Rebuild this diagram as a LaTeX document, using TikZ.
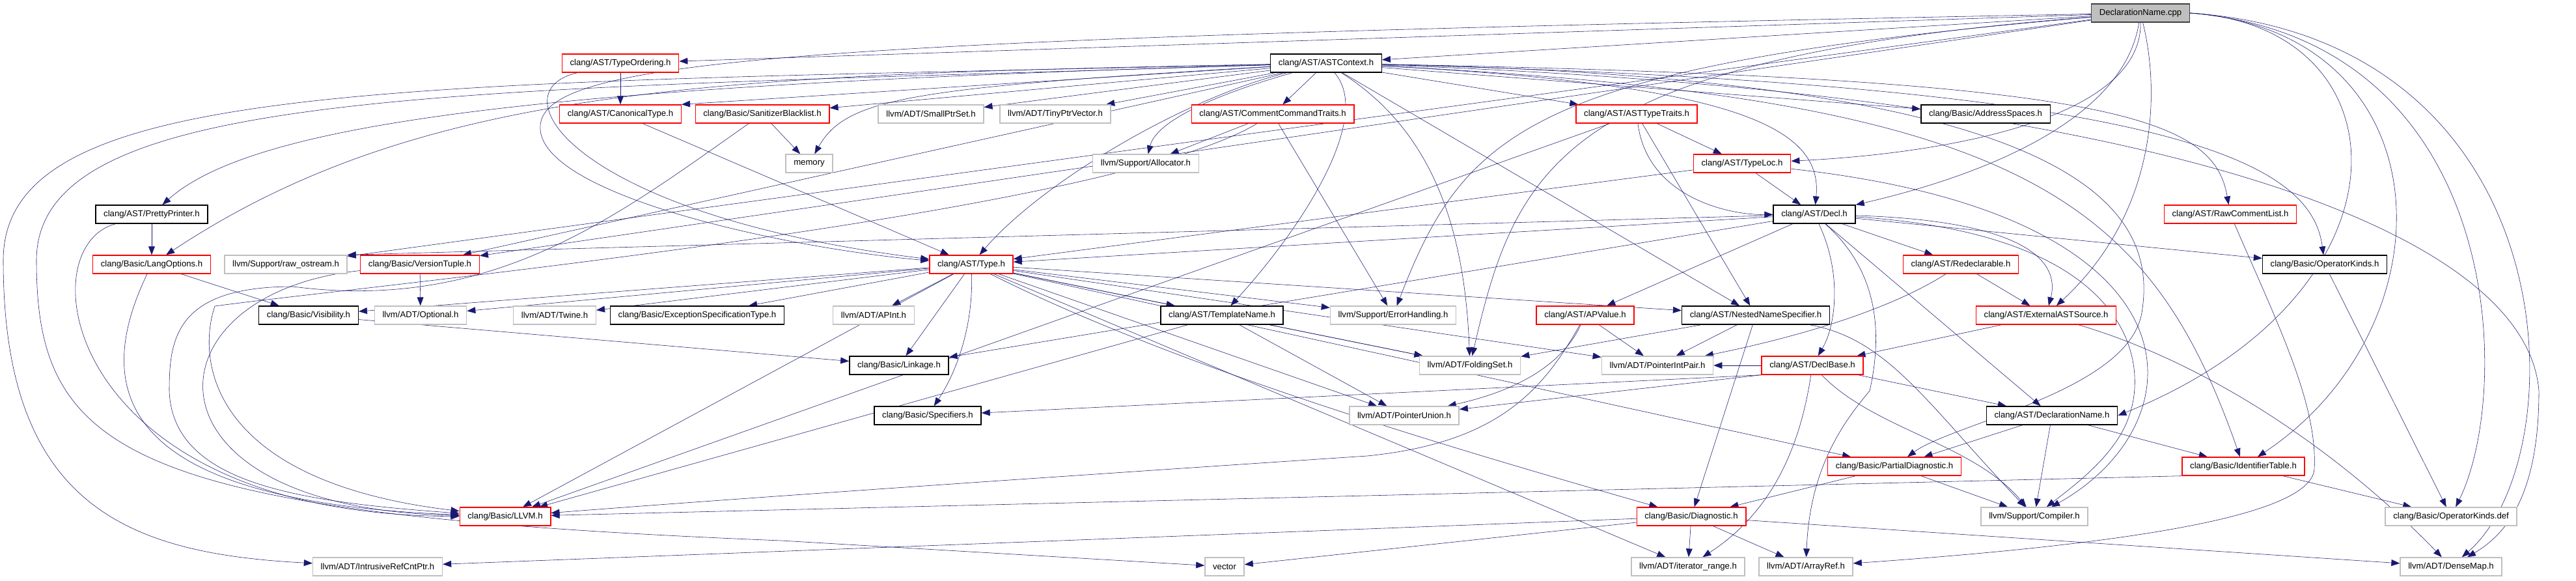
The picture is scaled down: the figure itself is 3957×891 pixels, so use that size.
\documentclass[tikz,border=0pt]{standalone}
\usepackage{fontspec}
\setmainfont{Liberation Sans}
\usepackage{tikz}
\usetikzlibrary{arrows.meta}
\usetikzlibrary{backgrounds}

\definecolor{edgeblue}{HTML}{191970}
\definecolor{cutred}{HTML}{FF0000}
\definecolor{sysgray}{HTML}{BFBFBF}
\definecolor{rootgray}{HTML}{BFBFBF}
\definecolor{fullgray}{HTML}{404040}

\begin{document}
\begin{tikzpicture}[->,>={Triangle[length=3.3mm,width=2.5mm]},line width=1.2pt,x=0.254mm,y=-0.254mm,
                    file node/.style={rectangle,draw,fill=white,text=black,line width=1pt,
                      minimum height=7.1mm,inner xsep=3.1mm,inner ysep=0pt,
                      font=\fontsize{9.5}{11}\selectfont},
                    root node/.style={file node,draw=fullgray,fill=rootgray},
                    full node/.style={file node,draw=black},
                    cut node/.style={file node,draw=cutred},
                    sys node/.style={file node,draw=sysgray}]

  \useasboundingbox (0,0) rectangle (3957,891);

  \node[root node] (cpp) at (3288,20) {DeclarationName.cpp};

  \node[cut node] (tord) at (953,97) {clang/AST/TypeOrdering.h};
  \node[full node] (astctx) at (2037,97) {clang/AST/ASTContext.h};

  \node[cut node] (canon) at (953,175) {clang/AST/CanonicalType.h};
  \node[cut node] (sanit) at (1171,175) {clang/Basic/SanitizerBlacklist.h};
  \node[sys node] (smallptr) at (1430,175) {llvm/ADT/SmallPtrSet.h};
  \node[sys node] (tinyptr) at (1621,175) {llvm/ADT/TinyPtrVector.h};
  \node[cut node] (cmdtraits) at (1955,175) {clang/AST/CommentCommandTraits.h};
  \node[cut node] (asttraits) at (2514,175) {clang/AST/ASTTypeTraits.h};
  \node[full node] (addrsp) at (3050,175) {clang/Basic/AddressSpaces.h};

  \node[sys node] (memory) at (1243,251) {memory};
  \node[sys node] (alloc) at (1760,251) {llvm/Support/Allocator.h};
  \node[cut node] (typeloc) at (2676,251) {clang/AST/TypeLoc.h};

  \node[full node] (pprint) at (233,329) {clang/AST/PrettyPrinter.h};
  \node[full node] (decl) at (2787,329) {clang/AST/Decl.h};
  \node[cut node] (rawcmt) at (3426,329) {clang/AST/RawCommentList.h};

  \node[cut node] (langopt) at (233,406) {clang/Basic/LangOptions.h};
  \node[sys node] (rawos) at (439,406) {llvm/Support/raw\_ostream.h};
  \node[cut node] (vtuple) at (645,406) {clang/Basic/VersionTuple.h};
  \node[cut node] (type) at (1492,406) {clang/AST/Type.h};
  \node[cut node] (redecl) at (3012,406) {clang/AST/Redeclarable.h};
  \node[full node] (opkinds) at (3571,406) {clang/Basic/OperatorKinds.h};

  \node[full node] (visib) at (474,484) {clang/Basic/Visibility.h};
  \node[sys node] (optional) at (646,484) {llvm/ADT/Optional.h};
  \node[sys node] (twine) at (852,484) {llvm/ADT/Twine.h};
  \node[full node] (excspec) at (1071,484) {clang/Basic/ExceptionSpecificationType.h};
  \node[sys node] (apint) at (1342,484) {llvm/ADT/APInt.h};
  \node[full node] (tname) at (1877,484) {clang/AST/TemplateName.h};
  \node[sys node] (errh) at (2140,484) {llvm/Support/ErrorHandling.h};
  \node[cut node] (apvalue) at (2435,484) {clang/AST/APValue.h};
  \node[full node] (nns) at (2697,484) {clang/AST/NestedNameSpecifier.h};
  \node[cut node] (extsrc) at (3143,484) {clang/AST/ExternalASTSource.h};

  \node[full node] (linkage) at (1381,561) {clang/Basic/Linkage.h};
  \node[sys node] (foldset) at (2258,561) {llvm/ADT/FoldingSet.h};
  \node[sys node] (ptrint) at (2546,561) {llvm/ADT/PointerIntPair.h};
  \node[cut node] (declbase) at (2784,561) {clang/AST/DeclBase.h};

  \node[full node] (specif) at (1425,638) {clang/Basic/Specifiers.h};
  \node[sys node] (ptrunion) at (2157,638) {llvm/ADT/PointerUnion.h};
  \node[full node] (dname) at (3152,638) {clang/AST/DeclarationName.h};

  \node[cut node] (pdiag) at (2910,716) {clang/Basic/PartialDiagnostic.h};
  \node[cut node] (idtable) at (3446,716) {clang/Basic/IdentifierTable.h};

  \node[cut node] (llvm) at (776,793) {clang/Basic/LLVM.h};
  \node[cut node] (diag) at (2598,793) {clang/Basic/Diagnostic.h};
  \node[sys node] (compiler) at (3125,793) {llvm/Support/Compiler.h};
  \node[sys node] (opdef) at (3765,793) {clang/Basic/OperatorKinds.def};

  \node[sys node] (irc) at (580,870) {llvm/ADT/IntrusiveRefCntPtr.h};
  \node[sys node] (vector) at (1881,870) {vector};
  \node[sys node] (itrange) at (2593,870) {llvm/ADT/iterator\_range.h};
  \node[sys node] (arrayref) at (2774,870) {llvm/ADT/ArrayRef.h};
  \node[sys node] (densemap) at (3765,870) {llvm/ADT/DenseMap.h};

  \begin{pgfonlayer}{background}
  \begin{scope}[color=edgeblue]
  \path
    (cpp) edge (tord)
          edge (astctx)
          edge (rawos)
          edge (vtuple)
    (tord) edge (canon)
    (astctx) edge (canon.north east)
             edge (sanit)
             edge (smallptr)
             edge (tinyptr)
             edge (cmdtraits)
             edge (asttraits)
             edge (addrsp)
             edge (vtuple)
             edge (nns)
    (canon) edge (type)
    (sanit) edge (memory)
    (cmdtraits) edge (alloc)
                edge (errh)
    (asttraits) edge (typeloc)
                edge (nns)
                edge (llvm)
    (typeloc) edge (type)
              edge (decl)
    (pprint) edge (langopt)
    (langopt) edge (visib)
    (vtuple) edge (optional)
    (visib) edge (linkage)
    (decl) edge (type)
           edge (rawos.north east)
           edge (linkage)
           edge (apvalue)
           edge (redecl)
           edge (dname)
           edge (opkinds)
    (type) edge (visib) edge (optional) edge (twine) edge (excspec) edge (apint)
           edge (linkage) edge (tname) edge (errh) edge (foldset) edge (ptrint)
           edge (ptrunion) edge (nns) edge (pdiag) edge (itrange) edge (llvm)
    (redecl) edge (extsrc)
    (opkinds) edge (opdef)
    (tname) edge (foldset) edge (ptrunion) edge (llvm)
    (apvalue) edge (ptrint)
    (nns) edge (foldset) edge (ptrint) edge (diag)
    (extsrc) edge (declbase)
    (declbase) edge (ptrint)
               edge (dname)
    (declbase.south west) edge (ptrunion) edge (specif)
    (dname) edge (pdiag) edge (compiler) edge (idtable)
    (pdiag) edge (diag) edge (compiler)
    (idtable) edge (opdef)
    (idtable.south west) edge (llvm)
    (diag) edge (vector) edge (itrange) edge (arrayref) edge (densemap) edge (irc);

  % long splines
  \draw (cpp) .. controls (1200,60) and (820,90) .. (830,200) .. controls (840,300) and (1200,380) .. (type);
  \draw (cpp) .. controls (3290,180) and (3000,235) .. (typeloc);
  \draw (cpp) .. controls (3260,200) and (3000,280) .. (decl);
  \draw (cpp) .. controls (3320,150) and (3310,330) .. (extsrc);
  \draw (cpp) .. controls (2350,100) and (2250,200) .. (errh);
  \draw (cpp) .. controls (2400,90) and (2330,250) .. (foldset);
  \draw (cpp.east) .. controls (3700,40) and (3720,450) .. (dname.east);
  \draw (cpp.east) .. controls (3760,50) and (3770,500) .. (idtable);
  \draw (cpp.east) .. controls (3850,60) and (3860,600) .. (opdef);
  \draw (cpp.east) .. controls (3950,60) and (3960,700) .. (densemap);
  \draw (tord) .. controls (760,140) and (880,330) .. (type);
  \draw (astctx) .. controls (1400,135) and (1300,150) .. (memory);
  \draw (astctx) .. controls (1850,150) and (1775,190) .. (alloc);
  \draw (astctx) .. controls (900,130) and (400,180) .. (pprint);
  \draw (astctx) .. controls (1100,115) and (650,130) .. (langopt);
  \draw (astctx) .. controls (1820,150) and (1600,280) .. (type);
  \draw (astctx) .. controls (2110,180) and (2000,350) .. (tname);
  \draw (astctx) .. controls (2200,200) and (2250,350) .. (foldset);
  \draw (astctx) .. controls (2680,130) and (2800,200) .. (decl);
  \draw (astctx) .. controls (3250,120) and (3400,180) .. (rawcmt);
  \draw (astctx) .. controls (3350,130) and (3550,250) .. (opkinds);
  \draw (astctx) .. controls (3100,150) and (3300,300) .. (idtable);
  \draw (astctx) .. controls (3150,120) and (3320,300) .. (3290,480) .. controls (3270,600) and (3000,650) .. (pdiag);
  \draw (astctx) .. controls (3300,140) and (3880,350) .. (3900,600) .. controls (3900,760) and (3850,820) .. (densemap);
  \draw (astctx) .. controls (600,130) and (5,120) .. (5,400) .. controls (5,780) and (200,850) .. (irc);
  \draw (astctx) .. controls (700,140) and (56,130) .. (56,400) .. controls (56,700) and (200,790) .. (1200,830) -- (vector);
  \draw (pprint) .. controls (40,380) and (100,790) .. (llvm);
  \draw (langopt) .. controls (140,600) and (180,770) .. (llvm);
  \draw (vtuple) .. controls (220,450) and (200,780) .. (llvm);
  \draw (sanit) .. controls (950,330) and (760,480) .. (450,440) .. controls (270,440) and (260,520) .. (260,600) .. controls (265,740) and (450,770) .. (llvm);
  \draw (cmdtraits) .. controls (1700,330) and (550,440) .. (330,470) .. controls (300,560) and (330,740) .. (llvm);
  \draw (asttraits) .. controls (2530,300) and (2650,330) .. (decl);
  \draw (decl) .. controls (2830,420) and (2820,500) .. (declbase);
  \draw (decl) .. controls (2890,420) and (2890,520) .. (2872,600) .. controls (2830,650) and (2780,720) .. (arrayref);
  \draw (decl) .. controls (3280,360) and (3300,560) .. (3270,640) .. controls (3250,700) and (3180,750) .. (compiler);
  \draw (decl) .. controls (3150,340) and (3160,420) .. (extsrc);
  \draw (typeloc) .. controls (3400,330) and (3380,650) .. (compiler);
  \draw (type) .. controls (1495,500) and (1470,570) .. (specif);
  \draw (type) .. controls (1800,560) and (2200,680) .. (diag);
  \draw (redecl) .. controls (2880,490) and (2700,530) .. (ptrint);
  \draw (rawcmt) .. controls (3500,500) and (3560,620) .. (3555,720) .. controls (3550,800) and (3200,840) .. (arrayref);
  \draw (extsrc) .. controls (3400,560) and (3600,700) .. (densemap);
  \draw (declbase) .. controls (2760,720) and (2700,800) .. (itrange);
  \draw (declbase) .. controls (2880,660) and (3030,680) .. (compiler);
  \draw (nns) .. controls (2900,520) and (2960,620) .. (compiler);
  \draw (apvalue) .. controls (2400,560) and (2330,600) .. (ptrunion);
  \draw (apvalue) .. controls (2370,600) and (2300,680) .. (2100,700) .. controls (1800,720) and (1200,760) .. (llvm);
  \end{scope}
  \end{pgfonlayer}
\end{tikzpicture}
\end{document}
